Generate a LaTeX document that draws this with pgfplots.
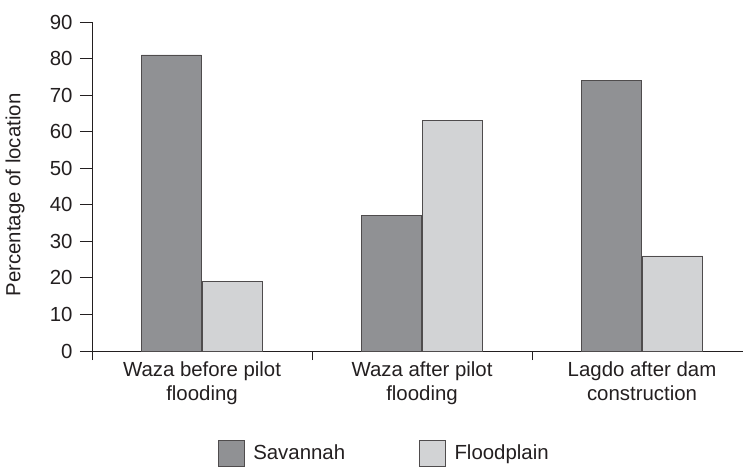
\documentclass[border=0pt]{standalone}
\usepackage{pgfplots}
\pgfplotsset{compat=1.18}
\usepackage{fontspec}
\setmainfont{Liberation Sans}
\definecolor{txt}{HTML}{231F20}
\definecolor{sav}{HTML}{909194}
\definecolor{flo}{HTML}{D2D3D5}
\begin{document}
\begin{tikzpicture}
\useasboundingbox (-92pt,-115pt) rectangle (651pt,351pt);
\begin{axis}[
  scale only axis,
  width=651pt, height=329pt,
  at={(0,0)}, anchor=south west,
  ybar=1.5pt, bar width=60pt,
  xmin=-0.5, xmax=2.459,
  ymin=0, ymax=90,
  ytick={0,10,...,90},
  xtick={0,1,2},
  xticklabels={{Waza before pilot\\flooding},{Waza after pilot\\flooding},{Lagdo after dam\\construction}},
  minor xtick={-0.5,0.5,1.5},
  major x tick style={draw=none},
  minor tick length=9pt,
  major tick length=12pt,
  tick align=outside,
  tick style={txt, line width=0.8pt},
  axis x line*=bottom, axis y line*=left,
  axis line style={txt, line width=0.8pt, -},
  /pgf/number format/assume math mode=true,
  ticklabel style={font=\fontsize{20.4}{24.5}\selectfont, text=txt},
  x tick label style={align=center, yshift=5pt},
  y tick label style={xshift=-4pt},
  ylabel={Percentage of location},
  ylabel style={font=\fontsize{20.4}{24}\selectfont, text=txt, at={(axis description cs:-0.118,0.474)}, anchor=center},
  legend style={at={(axis description cs:0.449,-0.31)}, anchor=center, draw=none, font=\fontsize{20.4}{24}\selectfont, text=txt, /tikz/every even column/.append style={column sep=72pt}},
  legend columns=2,
  legend image code/.code={\path[draw=none,fill=none] (0pt,0pt) -- (33pt,0pt);\draw[#1,draw=txt!80,line width=0.7pt] (0pt,-13pt) rectangle (26pt,13pt);},
]
\addplot[fill=sav, draw=txt!80, line width=0.7pt] coordinates {(0,81) (1,37) (2,74)};
\addplot[fill=flo, draw=txt!80, line width=0.7pt] coordinates {(0,19) (1,63) (2,26)};
\legend{Savannah, Floodplain}
\end{axis}
\end{tikzpicture}
\end{document}
